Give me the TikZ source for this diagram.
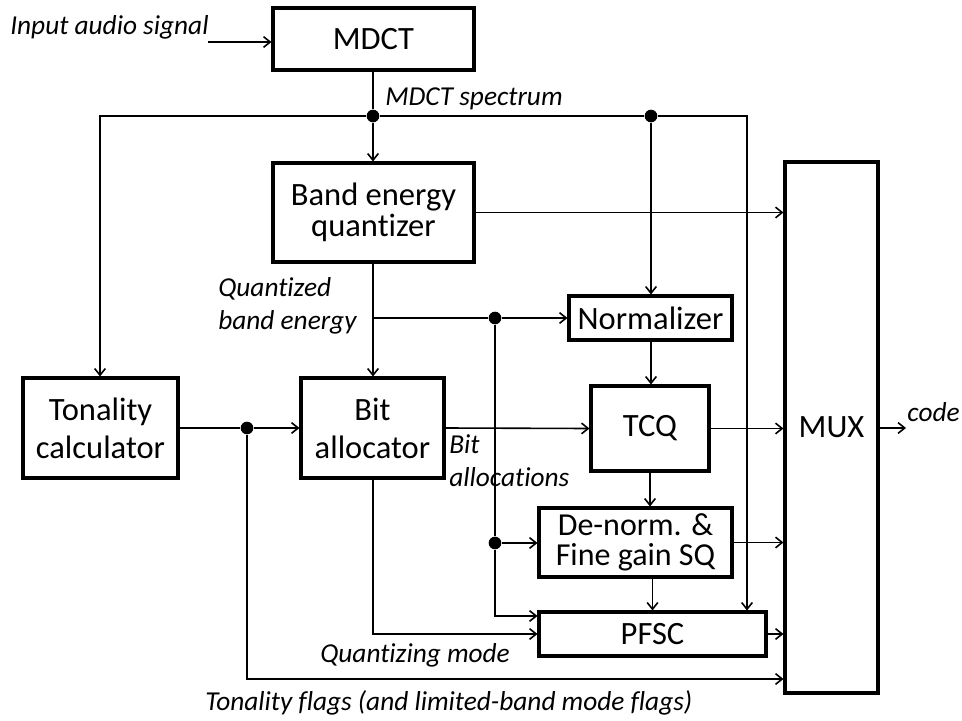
\documentclass[tikz,border=0pt]{standalone}
\usepackage{fontspec}
\setmainfont{Carlito}[Ligatures=NoCommon]
\usetikzlibrary{arrows.meta}
\begin{document}
\begin{tikzpicture}[x=0.75pt,y=-0.75pt,
  blk/.style={draw,line width=2.3pt,inner sep=0pt,align=center,font=\fontsize{24.4}{28.5}\selectfont},
  lbl/.style={inner sep=0pt,font=\fontsize{20.5}{25}\selectfont\itshape,align=left},
  con/.style={line width=1.2pt},
  arr/.style={con,-{Straight Barb[length=5pt,width=8pt,line width=1.2pt]}},
  jdot/.style={circle,fill,inner sep=0pt,minimum size=9.5pt}]
\useasboundingbox (0,0) rectangle (962,720);
% blocks
\node[blk,minimum width=150.75pt,minimum height=46.5pt] (mdct) at (373.5,39) {MDCT};
\node[blk,minimum width=150.75pt,minimum height=74.25pt,font=\fontsize{24.4}{23.5}\selectfont] (beq) at (373.5,212.5) {Band energy\\quantizer};
\node[blk,minimum width=116.25pt,minimum height=75pt] (tc) at (100.5,428) {Tonality\\calculator};
\node[blk,minimum width=107.25pt,minimum height=75pt] (ba) at (372.5,428) {Bit\\allocator};
\node[blk,minimum width=122.25pt,minimum height=33pt] (norm) at (650.5,318) {Normalizer};
\node[blk,minimum width=88.5pt,minimum height=63.75pt] (tcq) at (650,428.5) {TCQ};
\node[blk,minimum width=144.75pt,minimum height=51.75pt,font=\fontsize{24}{22.5}\selectfont] (dn) at (635.5,542.5) {De-norm. \&\\Fine gain SQ};
\node[blk,minimum width=170.25pt,minimum height=33pt] (pfsc) at (652.5,634) {PFSC};
\node[blk,minimum width=69.75pt,minimum height=398.25pt] (mux) at (831.5,427.5) {MUX};
% labels
\node[lbl,anchor=base west] (lin) at (10,35) {Input audio signal};
\node[lbl,anchor=base west] (lspec) at (385,106) {MDCT spectrum};
\node[lbl,anchor=west] (lqbe) at (218,306) {Quantized\\band energy};
\node[lbl,anchor=west] (lbit) at (449,461) {Bit\\allocations};
\node[lbl,anchor=west] (lqm) at (320,655) {Quantizing mode};
\node[lbl,anchor=west] (ltf) at (205,703) {Tonality flags (and limited-band mode flags)};
\node[lbl,anchor=east] (lcode) at (960,412) {code};
% coordinates
\coordinate (cin) at (208,42);
\coordinate (cspecL) at (100,116);
\coordinate (cspecR) at (747,116);
\coordinate (cqbe) at (373,318);
\coordinate (cpf) at (495,616);
\coordinate (ctf) at (247,679);
\coordinate (cqm) at (373,634);
\coordinate (ccode) at (906,428);
% junction dots
\node[jdot] (j1) at (373,116) {};
\node[jdot] (j2) at (651,116) {};
\node[jdot] (j4) at (495,318) {};
\node[jdot] (j5) at (495,543) {};
\node[jdot] (j6) at (247,428) {};
% connectors
\draw[arr] (cin) -- (mdct.west |- cin);
\draw[con] (mdct.south -| j1) -- (j1);
\draw[arr] (j1) -- (j1 |- beq.north);
\draw[arr] (j1) -- (cspecL) -- (cspecL |- tc.north);
\draw[con] (j1) -- (j2);
\draw[arr] (j2) -- (j2 |- norm.north);
\draw[arr] (j2) -- (cspecR) -- (cspecR |- pfsc.north);
\draw[arr] (beq.east) -- (beq.east -| mux.west);
\draw[arr] (beq.south -| cqbe) -- (cqbe |- ba.north);
\draw[con] (cqbe) -- (j4);
\draw[arr] (j4) -- (norm.west);
\draw[con] (j4) -- (j5);
\draw[arr] (j5) -- (j5 -| dn.west);
\draw[arr] (j5) -- (cpf) -- (cpf -| pfsc.west);
\draw[arr] (norm.south -| j2) -- (j2 |- tcq.north);
\draw[arr] (tcq.south) -- (tcq.south |- dn.north);
\draw[arr] (pfsc.north |- dn.south) -- (pfsc.north);
\draw[con] (tc.east) -- (j6);
\draw[arr] (j6) -- (ba.west);
\draw[arr] (j6) -- (ctf) -- (ctf -| mux.west);
\draw[arr] (ba.east) -- (tcq.west);
\draw[arr] (tcq.east) -- (tcq.east -| mux.west);
\draw[arr] (dn.east) -- (dn.east -| mux.west);
\draw[arr] (pfsc.east) -- (pfsc.east -| mux.west);
\draw[arr] (ba.south -| cqm) -- (cqm) -- (pfsc.west);
\draw[arr] (mux.east |- ccode) -- (ccode);
\end{tikzpicture}
\end{document}
